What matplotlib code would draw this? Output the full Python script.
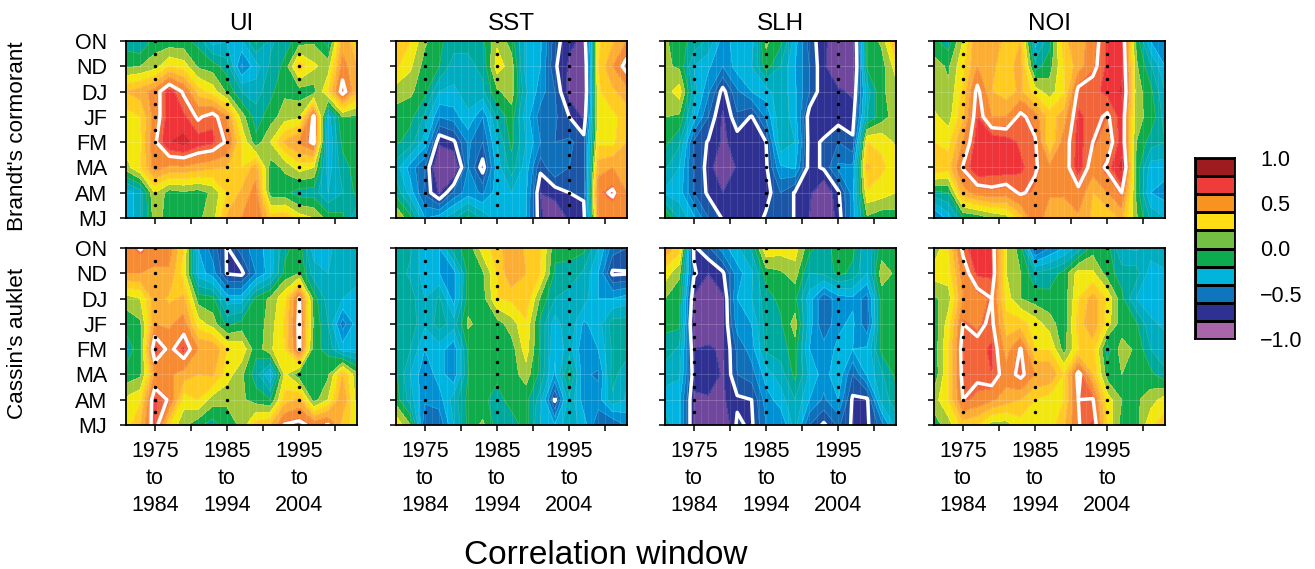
import numpy as np
import matplotlib
matplotlib.use("Agg")
import matplotlib.pyplot as plt

plt.rcParams['font.family'] = ['Liberation Sans', 'DejaVu Sans']

W, H = 1315, 569

years = np.arange(1971, 2004, 2)
months = ["ON", "ND", "DJ", "JF", "FM", "MA", "AM", "MJ"]
panel_titles = ["UI", "SST", "SLH", "NOI"]
species = ["Brandt's cormorant", "Cassin's auklet"]

# correlation x 100, rows ON -> MJ, columns 1971..2003 every 2 years
ui_brandt = [
    [-5, -10, 5, 3, 3, -3, -25, -20, -22, 3, -12, -5, 5, 8, -5, 45, 35],
    [8, 10, 15, 30, 25, 8, 5, -5, -42, -25, -8, 3, 35, 22, 15, 55, 40],
    [40, 45, 55, 75, 60, 35, 25, 8, -10, -15, -3, 8, 5, 5, 30, 68, 40],
    [25, 30, 55, 75, 72, 60, 68, 50, 15, -5, 5, 15, 18, 65, -25, 10, 8],
    [25, 28, 60, 80, 85, 75, 72, 60, 30, 3, 20, 42, 52, 65, -30, 3, 5],
    [15, 30, 55, 48, 48, 45, 42, 40, 30, 45, 5, 12, 25, 20, -25, -5, 5],
    [-25, -15, 20, 5, 8, 5, 12, 30, 42, 55, 5, 3, -5, -5, -20, -10, 3],
    [-25, -15, 15, 5, 5, 8, 15, 42, 50, 60, 35, 38, 25, 20, 5, 3, -20],
]
sst_brandt = [
    [35, 30, 12, 2, -5, -8, -3, 18, 5, -22, -28, -55, -68, -72, 28, 38, 50],
    [32, 22, 5, 0, -15, -12, -8, 25, 15, -25, -30, -58, -72, -80, 30, 50, 68],
    [15, 12, 3, -20, -22, -15, -12, 8, 15, -18, -35, -50, -75, -82, 28, 38, 45],
    [5, 3, -12, -40, -35, -22, -40, -8, 5, -25, -45, -48, -60, -72, 25, 27, 35],
    [2, -5, -25, -68, -62, -38, -50, -20, 3, -20, -40, -50, -48, -55, 28, 27, 40],
    [-15, -35, -50, -85, -85, -40, -65, -25, -5, -25, -57, -40, -50, -58, 45, 50, 45],
    [-3, -25, -52, -72, -48, -35, -42, -25, -20, -28, -70, -66, -60, -57, 58, 64, 50],
    [20, 3, -30, -25, -12, 3, -12, -25, -25, -30, -68, -80, -68, -66, 50, 52, 55],
]
slh_brandt = [
    [12, 3, -3, -12, -35, -25, -25, 12, 3, -25, -55, -66, -82, -82, 3, 12, 45],
    [12, 8, -20, -28, -40, -25, -20, 5, -10, -30, -50, -68, -82, -85, 2, 5, 25],
    [15, 25, -15, -38, -64, -42, -30, -25, -12, -28, -50, -68, -68, -72, -15, 8, 15],
    [10, 8, -25, -50, -72, -52, -61, -38, -12, -25, -66, -70, -65, -65, -10, 5, 15],
    [3, -8, -52, -61, -72, -66, -66, -60, -12, -20, -65, -58, -50, -58, 30, 28, 18],
    [-8, -20, -52, -63, -85, -68, -70, -62, -32, -28, -65, -58, -38, -38, 42, 32, 25],
    [-22, -25, -50, -62, -70, -68, -68, -65, -50, -61, -68, -82, -62, -35, 28, 25, 20],
    [12, -12, -28, -50, -61, -68, -68, -58, -50, -61, -70, -82, -66, -35, 8, 3, 5],
]
noi_brandt = [
    [2, -5, 20, 50, 50, 35, 40, -25, -3, 38, 45, 55, 72, 75, 8, -30, -40],
    [15, 8, 28, 50, 42, 35, 45, -5, 5, 30, 45, 58, 72, 78, 12, -8, -30],
    [15, 12, 32, 66, 40, 35, 42, 25, 15, 28, 66, 68, 72, 82, 15, 3, -20],
    [22, 15, 38, 70, 50, 50, 66, 55, 35, 45, 72, 66, 60, 74, 12, 8, -15],
    [30, 27, 50, 75, 78, 75, 68, 64, 30, 55, 74, 62, 55, 74, 10, -5, -10],
    [40, 35, 63, 78, 76, 76, 72, 64, 52, 55, 75, 55, 64, 85, 8, -25, -25],
    [-3, 0, 45, 55, 58, 55, 64, 58, 52, 52, 58, 40, 50, 62, 8, -30, -35],
    [-45, -25, 0, 3, 10, 15, 35, 60, 42, 40, 48, 38, 32, 42, 12, -12, -20],
]
ui_cassin = [
    [55, 63, 55, 55, 30, -30, -45, -61, -45, -35, -25, -3, 5, -25, -22, -15, -15],
    [50, 50, 48, 48, 25, -25, -35, -61, -63, -40, -25, 3, 10, -15, -20, -15, -15],
    [15, 20, 45, 38, 42, 5, 3, -25, -25, 3, 12, 28, 63, 5, -15, -20, -25],
    [3, 8, 50, 48, 55, 25, 15, -3, 3, 3, 15, 32, 65, 8, -10, -45, -25],
    [-5, 5, 74, 58, 72, 50, 50, 30, 28, 3, 18, 30, 64, 3, -3, -25, -25],
    [3, 8, 50, 52, 45, 40, 42, 25, 12, -5, -30, 22, 3, 3, 8, 40, 12],
    [22, 28, 72, 60, 25, 30, 15, 12, 12, 5, 0, 35, 42, 5, 20, 50, 15],
    [25, 40, 70, 30, 12, 3, -5, 5, 12, 35, 40, 63, 66, 58, 63, 35, 25],
]
sst_cassin = [
    [-5, -8, -28, -30, -3, 3, 25, 35, 48, 38, 32, 3, 3, 3, -20, -45, -50],
    [-5, -12, -25, -30, -35, 3, 8, 30, 50, 40, 30, -2, -3, -12, -30, -62, -61],
    [-5, -5, -20, -8, -35, 5, 5, 30, 32, 38, 8, -10, -15, -15, -30, -30, -25],
    [-5, -4, -18, -5, -15, 12, 5, 5, 15, 28, -3, -25, -12, -32, -25, -5, -5],
    [-5, -10, -30, -25, -38, 2, 2, 5, 5, 25, -2, -28, -15, -38, -30, -8, -5],
    [2, -20, -38, -25, -38, 0, 3, 3, 5, 15, -3, -32, 3, -38, -42, -6, -18],
    [5, -15, -38, -35, -15, 3, 3, -5, 5, 3, -15, -62, -12, -35, -35, -12, -22],
    [28, 10, -50, -48, -20, 3, 12, -5, -6, 5, -20, -30, -12, -25, -48, -50, -38],
]
slh_cassin = [
    [48, 35, -62, -52, -35, -22, -8, 28, 25, 25, 3, -5, 5, 3, -18, 5, 5],
    [25, 12, -58, -70, -62, -35, -22, 5, 8, 15, -10, -8, 3, -3, -20, 15, 8],
    [10, 3, -72, -85, -72, -30, -20, -5, 3, 3, -25, -48, -35, -32, -45, 5, 5],
    [3, 3, -82, -80, -72, -35, -30, -5, -2, 15, -25, -50, -32, -28, -48, 3, 5],
    [-5, -12, -70, -68, -72, -48, -35, -8, -5, 5, -30, -35, -28, -30, -28, 3, 3],
    [-15, -18, -66, -61, -72, -50, -45, -25, -15, 3, -22, -35, -22, -50, -28, -12, 3],
    [-25, -28, -72, -72, -72, -62, -60, -35, -25, -10, -30, -42, -30, -62, -62, -15, -5],
    [-15, -28, -72, -75, -82, -58, -62, -40, -40, -15, -50, -62, -48, -62, -62, -45, -15],
]
noi_cassin = [
    [12, 30, 65, 78, 70, 20, 5, -55, -40, -30, -15, 5, 5, -20, -22, -15, -10],
    [25, 25, 55, 72, 72, 20, 10, -8, -5, 3, 25, 22, 5, -5, -5, -25, -22],
    [8, 15, 50, 55, 62, 25, 10, 5, 3, 3, 30, 45, 28, 3, -20, -25, -25],
    [3, 25, 62, 58, 65, 35, 35, 25, 15, 3, 35, 48, 25, 3, 2, -18, -22],
    [3, 30, 68, 66, 72, 45, 63, 30, 30, 5, 30, 35, -5, 15, 8, -10, -15],
    [2, 30, 66, 64, 70, 55, 66, 50, 50, 30, 66, 40, 5, 10, 3, 3, -8],
    [15, 30, 62, 58, 52, 45, 40, 30, 25, 30, 62, 63, 25, 10, 8, 15, 25],
    [5, 15, 35, 30, 15, 15, 25, 22, 25, 38, 61, 72, 30, 5, 5, 28, 35],
]
panels = [ui_brandt, sst_brandt, slh_brandt, noi_brandt,
          ui_cassin, sst_cassin, slh_cassin, noi_cassin]

# map bands and the coarser legend
band_levels = [-1, -.7, -.6, -.5, -.4, -.3, -.2, -.1, 0, .1, .2, .3, .4, .5, .6, .7, .8, 1]
band_colors = ['#6F479C', '#2E3192', '#1B55A5', '#0F6FB8', '#0090D4', '#00B4E0', '#00ADC0',
               '#00A99D', '#10AB4B', '#A2C93A', '#F2E80F', '#FFCB20', '#FBAE33', '#F68B33',
               '#F2643A', '#EE3339', '#D8262A']
legend_levels = np.arange(-1, 1.01, 0.2)
legend_colors = ['#A865A9', '#2E3192', '#0F75BC', '#00B4DC', '#0DAA4F',
                 '#72BF44', '#FFDD15', '#F7931E', '#EF3B39', '#9E1B20']
signif = [-0.6, 0.62]
windows = [1975, 1985, 1995]
win_labels = ["1975\nto\n1984", "1985\nto\n1994", "1995\nto\n2004"]

lefts = [126, 396, 665, 934]
tops = [41, 248]
pw, ph = 231, 177


def px_axes(fig, x0, y0, w, h):
    return fig.add_axes([x0 / W, 1 - (y0 + h) / H, w / W, h / H])


fig = plt.figure(figsize=(W / 100, H / 100), dpi=100)
rows_y = np.arange(7, -1, -1)

for i, data in enumerate(panels):
    r, c = i // 4, i % 4
    ax = px_axes(fig, lefts[c], tops[r], pw, ph)
    z = np.array(data) / 100
    ax.contourf(years, rows_y, z, levels=band_levels, colors=band_colors)
    ax.contour(years, rows_y, z, levels=band_levels, colors='white', linewidths=0.3, alpha=0.3,
               linestyles='solid')
    for yr in np.arange(1971, 2004):
        ax.axvline(yr, color='white', lw=0.4, alpha=0.18)
    for m in rows_y:
        ax.axhline(m, color='white', lw=0.5, alpha=0.25)
    ax.contour(years, rows_y, z, levels=signif, colors='white', linewidths=2.5, linestyles='solid')
    dots = np.arange(0.5, 7.1, 0.5)
    for w in windows:
        ax.plot(np.full(dots.size, w), dots, 'o', color='black', ms=2.5, mew=0)
    ax.set_xlim(1971, 2003)
    ax.set_ylim(0, 7)
    ax.set_yticks(rows_y)
    ax.set_xticks(np.arange(1975, 2003, 5))
    ax.tick_params(length=4.5, width=1.1, color='black', labelsize=15.5)
    ax.tick_params(axis='y', pad=9)
    ax.set_xticklabels([])
    ax.set_yticklabels(months if c == 0 else [])
    if r == 0:
        ax.set_title(panel_titles[c], fontsize=17.5, pad=8)
    else:
        ax.set_xticks(windows + [1980, 1990, 2000])
        ax.set_xticklabels(win_labels + ["", "", ""], linespacing=1.39)
        ax.tick_params(axis='x', pad=7)
    for s in ax.spines.values():
        s.set_linewidth(1.3)

fig.text(18 / W, 1 - 136 / H, species[0], rotation=90, fontsize=16.2, ha='center', va='center')
fig.text(18 / W, 1 - 343 / H, species[1], rotation=90, fontsize=16.2, ha='center', va='center')
fig.text(606 / W, 1 - 555 / H, "Correlation window", fontsize=24, ha='center', va='center')

cax = px_axes(fig, 1195, 158, 40, 181)
cax.pcolormesh([0, 1], legend_levels, np.arange(10).reshape(-1, 1),
               cmap=matplotlib.colors.ListedColormap(legend_colors),
               edgecolors='black', linewidth=1.0)
cax.set_xticks([])
cax.yaxis.tick_right()
cax.set_yticks([-1, -.5, 0, .5, 1])
cax.set_yticklabels(["\u22121.0", "\u22120.5", "0.0", "0.5", "1.0"])
cax.tick_params(axis='y', length=0, labelsize=15.5, pad=18)
for s in cax.spines.values():
    s.set_linewidth(1.3)

fig.savefig("out.png", dpi=100)
